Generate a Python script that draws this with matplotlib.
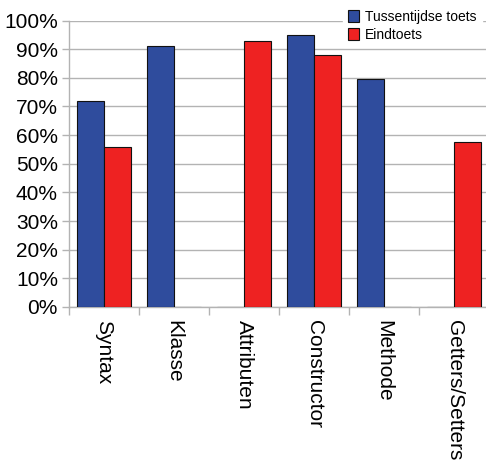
import numpy as np
import matplotlib
matplotlib.use("Agg")
import matplotlib.pyplot as plt
from matplotlib.ticker import PercentFormatter

categories = ["Syntax", "Klasse", "Attributen", "Constructor", "Methode", "Getters/Setters"]
tussentijds = [72, 91, 0, 95, 79.5, 0]
eindtoets = [56, 0, 93, 88, 0, 57.5]

plt.rcParams['font.family'] = ['Liberation Sans', 'DejaVu Sans']

fig = plt.figure(figsize=(4.86, 4.61), dpi=100)
# axes runs slightly past the right edge of the figure
ax = fig.add_axes([69 / 486, (461 - 307) / 461, (489 - 69) / 486, (307 - 20.5) / 461])

x = np.arange(len(categories))
w = 0.39
blue = "#2f4c9d"
red = "#ee2222"
ax.bar(x - w / 2, tussentijds, w, color=blue, edgecolor="#111111", linewidth=0.8,
       label="Tussentijdse toets", zorder=3)
ax.bar(x + w / 2, eindtoets, w, color=red, edgecolor="#111111", linewidth=0.8,
       label="Eindtoets", zorder=3)

ax.set_xlim(-0.5, len(categories) - 0.5)
ax.set_ylim(0, 100)
ax.set_yticks(range(0, 101, 10))
ax.yaxis.set_major_formatter(PercentFormatter(decimals=0))
ax.grid(axis="y", color="#b3b3b3", linewidth=1.0, zorder=0)

ax.set_xticks(x)
ax.set_xticklabels(categories, rotation=270, fontsize=15, va="top", ha="center")
ax.set_xticks(np.arange(len(categories)) - 0.5, minor=True)
ax.tick_params(axis="x", which="major", length=0, pad=9)
ax.tick_params(axis="x", which="minor", length=6, color="#b3b3b3", width=1)
ax.tick_params(axis="y", length=5, color="#b3b3b3", width=1, labelsize=15, pad=3)

for side in ["top", "right"]:
    ax.spines[side].set_visible(False)
for side in ["left", "bottom"]:
    ax.spines[side].set_color("#b3b3b3")
    ax.spines[side].set_linewidth(1.0)

leg = fig.legend(loc="upper right", bbox_to_anchor=(1.0, 1.0), fontsize=10,
                 frameon=True, fancybox=False, handlelength=0.8, handleheight=1.0,
                 handletextpad=0.4, labelspacing=0.3, borderaxespad=0.3)
leg.get_frame().set_edgecolor("white")
leg.get_frame().set_facecolor("white")
leg.get_frame().set_alpha(1.0)

fig.savefig("out.png", dpi=100)
